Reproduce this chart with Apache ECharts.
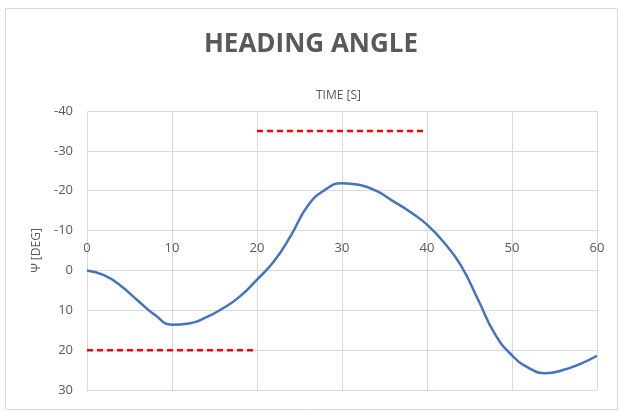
<!DOCTYPE html>
<html>
<head>
<meta charset="utf-8">
<script src="https://cdn.jsdelivr.net/npm/echarts@6/dist/echarts.min.js"></script>
<style>html,body{margin:0;padding:0;background:#fff}#c{width:622px;height:412px}</style>
</head>
<body>
<div id="c"></div>
<script>
var timeS = [0, 2, 4, 6, 8, 10, 12, 14, 16, 18, 20, 22, 24, 26, 28, 30, 32, 34, 36, 38, 40, 42, 44, 46, 48, 50, 52, 54, 56, 58, 60];
var headingDeg = [0, 1.2, 3.9, 7.6, 11.2, 13.6, 13.3, 11.8, 9.5, 6.5, 2.3, -2.3, -8.8, -16.3, -20.2, -21.9, -21.5, -20.0, -17.4, -14.7, -11.5, -7.0, -1.2, 7.3, 16.0, 21.3, 24.5, 25.8, 25.0, 23.5, 21.4];
var limitLow = [[0, 20], [20, 20]];
var limitHigh = [[20, -35], [40, -35]];
var xTicks = {min: 0, max: 60, interval: 10};
var yTicks = {min: -40, max: 30, interval: 10};

var chart = echarts.init(document.getElementById('c'));
var gray = '#595959';
var gridColor = '#D9D9D9';
var gridTop = 111;
chart.setOption({
  animation: false,
  title: {
    text: 'HEADING ANGLE',
    left: 'center', top: 27,
    textStyle: {fontFamily: 'Open Sans', fontWeight: 'bold', fontSize: 26, color: gray}
  },
  graphic: [
    {type: 'rect', shape: {x: 5.5, y: 8.5, width: 612, height: 401}, style: {fill: 'none', stroke: gridColor, lineWidth: 1}, z: -1},
    {type: 'text', left: 316, top: 90, style: {text: 'TIME [S]', font: '12px "Open Sans"', fill: gray}}
  ],
  grid: {left: 87, right: 25, top: gridTop, bottom: 22},
  xAxis: {
    type: 'value', min: xTicks.min, max: xTicks.max, interval: xTicks.interval,
    position: 'top',
    axisLine: {onZero: false, lineStyle: {color: gridColor}},
    axisTick: {show: false},
    axisLabel: {color: gray, fontFamily: 'Open Sans', fontSize: 13, margin: 16, showMinLabel: true, showMaxLabel: true},
    splitLine: {show: true, lineStyle: {color: gridColor}}
  },
  yAxis: {
    type: 'value', inverse: true, min: yTicks.min, max: yTicks.max, interval: yTicks.interval,
    name: 'Ψ [DEG]', nameLocation: 'middle', nameGap: 41,
    nameTextStyle: {color: gray, fontFamily: 'Open Sans', fontSize: 12},
    axisLine: {show: false},
    axisTick: {show: false},
    axisLabel: {color: gray, fontFamily: 'Open Sans', fontSize: 13, margin: 14},
    splitLine: {show: true, lineStyle: {color: gridColor}}
  },
  series: [
    {type: 'line', data: timeS.map(function (t, i) { return [t, headingDeg[i]]; }),
     smooth: 0.5, showSymbol: false, lineStyle: {color: '#4472C4', width: 2.5}},
    {type: 'line', data: limitLow, showSymbol: false, lineStyle: {color: '#FF0000', width: 2.5, type: [6, 4]}},
    {type: 'line', data: limitHigh, showSymbol: false, lineStyle: {color: '#FF0000', width: 2.5, type: [6, 4]}}
  ]
});
// place the time axis on the zero heading line, using the library's own y scale
var zeroPx = chart.convertToPixel({yAxisIndex: 0}, 0);
chart.setOption({xAxis: {offset: gridTop - zeroPx}});
</script>
</body>
</html>
